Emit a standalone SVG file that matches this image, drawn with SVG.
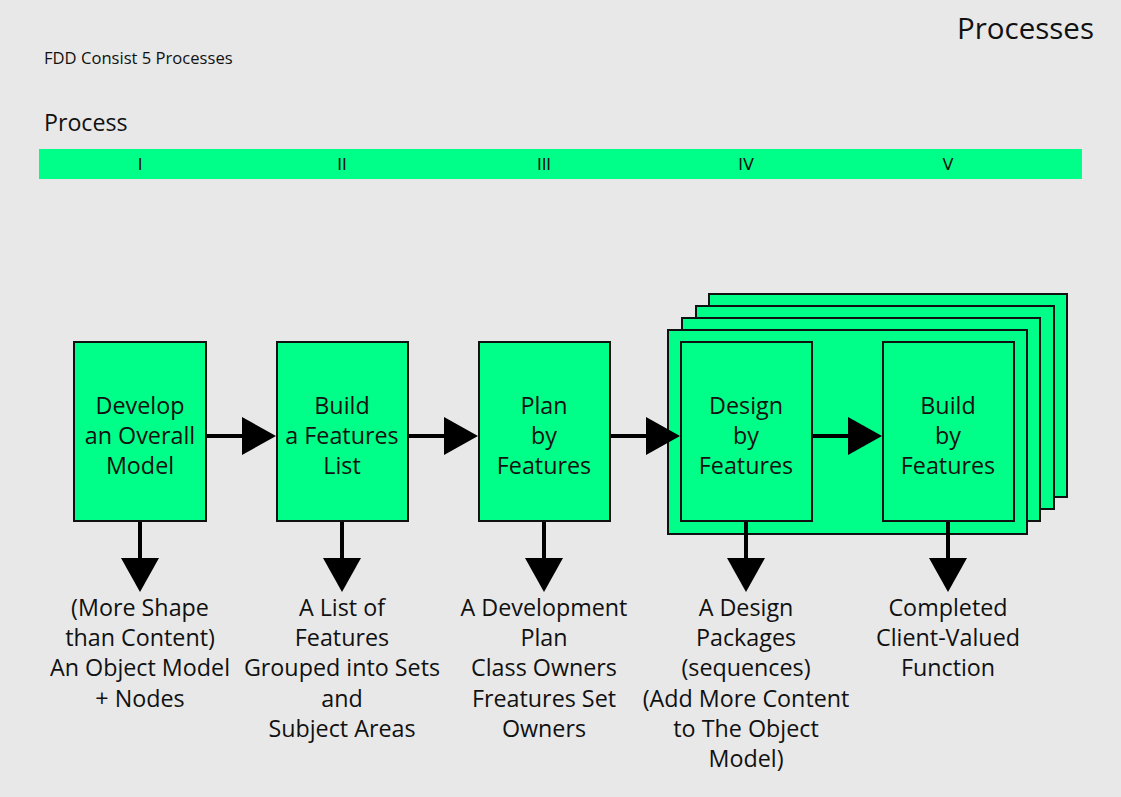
<svg xmlns="http://www.w3.org/2000/svg" width="1121" height="797" viewBox="0 0 1121 797">
  <defs>
    <style>
      text { font-family: "Open Sans", "Noto Sans", sans-serif; fill: #111; }
      .box { fill: #00ff88; stroke: #111; stroke-width: 2; }
      .lbl { font-size: 23.3px; text-anchor: middle; }
      .num { font-family: "DejaVu Sans", sans-serif; font-size: 16px; text-anchor: middle; }
      .wire { stroke: #000; stroke-width: 4; fill: none; }
      .head { fill: #000; }
    </style>
  </defs>
  <rect x="0" y="0" width="1121" height="797" fill="#e8e8e8"/>

  <!-- headings -->
  <text x="1094" y="39" font-size="29.5" text-anchor="end">Processes</text>
  <text x="44" y="64" font-size="16.6">FDD Consist 5 Processes</text>
  <text x="44" y="131" font-size="23.2">Process</text>

  <!-- process number strip -->
  <g id="strip">
    <rect x="39" y="149" width="1043" height="30" fill="#00ff88"/>
    <text class="num" x="140" y="170">I</text>
    <text class="num" x="342" y="170">II</text>
    <text class="num" x="544" y="170">III</text>
    <text class="num" x="746" y="170">IV</text>
    <text class="num" x="948" y="170">V</text>
  </g>

  <!-- stacked iteration frames -->
  <g id="iteration-stack">
    <rect class="box" x="709" y="294" width="358" height="203"/>
    <rect class="box" x="696" y="306" width="358" height="203"/>
    <rect class="box" x="682" y="318" width="358" height="203"/>
    <rect class="box" x="668" y="330" width="359" height="204"/>
  </g>

  <!-- connectors -->
  <g id="connectors">
    <line class="wire" x1="206" y1="436" x2="244" y2="436"/>
    <polygon class="head" points="242,417 276,436 242,455"/>
    <line class="wire" x1="408" y1="436" x2="446" y2="436"/>
    <polygon class="head" points="444,417 478,436 444,455"/>
    <line class="wire" x1="610" y1="436" x2="648" y2="436"/>
    <polygon class="head" points="646,417 680,436 646,455"/>
    <line class="wire" x1="812" y1="436" x2="850" y2="436"/>
    <polygon class="head" points="848,417 882,436 848,455"/>

    <line class="wire" x1="140" y1="521" x2="140" y2="560"/>
    <polygon class="head" points="121,558 159,558 140,592"/>
    <line class="wire" x1="342" y1="521" x2="342" y2="560"/>
    <polygon class="head" points="323,558 361,558 342,592"/>
    <line class="wire" x1="544" y1="521" x2="544" y2="560"/>
    <polygon class="head" points="525,558 563,558 544,592"/>
    <line class="wire" x1="746" y1="521" x2="746" y2="560"/>
    <polygon class="head" points="727,558 765,558 746,592"/>
    <line class="wire" x1="948" y1="521" x2="948" y2="560"/>
    <polygon class="head" points="929,558 967,558 948,592"/>
  </g>

  <!-- process nodes -->
  <g id="develop-model">
    <rect class="box" x="74" y="342" width="132" height="179"/>
    <text class="lbl" x="140" y="414">Develop</text>
    <text class="lbl" x="140" y="444">an Overall</text>
    <text class="lbl" x="140" y="474">Model</text>
  </g>
  <g id="build-features-list">
    <rect class="box" x="277" y="342" width="131" height="179"/>
    <text class="lbl" x="342" y="414">Build</text>
    <text class="lbl" x="342" y="444">a Features</text>
    <text class="lbl" x="342" y="474">List</text>
  </g>
  <g id="plan-by-features">
    <rect class="box" x="479" y="342" width="131" height="179"/>
    <text class="lbl" x="544" y="414">Plan</text>
    <text class="lbl" x="544" y="444">by</text>
    <text class="lbl" x="544" y="474">Features</text>
  </g>
  <g id="design-by-features">
    <rect class="box" x="681" y="342" width="131" height="179"/>
    <text class="lbl" x="746" y="414">Design</text>
    <text class="lbl" x="746" y="444">by</text>
    <text class="lbl" x="746" y="474">Features</text>
  </g>
  <g id="build-by-features">
    <rect class="box" x="883" y="342" width="131" height="179"/>
    <text class="lbl" x="948" y="414">Build</text>
    <text class="lbl" x="948" y="444">by</text>
    <text class="lbl" x="948" y="474">Features</text>
  </g>

  <!-- outputs -->
  <g id="output-1">
    <text class="lbl" x="140" y="616">(More Shape</text>
    <text class="lbl" x="140" y="646">than Content)</text>
    <text class="lbl" x="140" y="676">An Object Model</text>
    <text class="lbl" x="140" y="707">+ Nodes</text>
  </g>
  <g id="output-2">
    <text class="lbl" x="342" y="616">A List of</text>
    <text class="lbl" x="342" y="646">Features</text>
    <text class="lbl" x="342" y="676">Grouped into Sets</text>
    <text class="lbl" x="342" y="707">and</text>
    <text class="lbl" x="342" y="737">Subject Areas</text>
  </g>
  <g id="output-3">
    <text class="lbl" x="544" y="616">A Development</text>
    <text class="lbl" x="544" y="646">Plan</text>
    <text class="lbl" x="544" y="676">Class Owners</text>
    <text class="lbl" x="544" y="707">Freatures Set</text>
    <text class="lbl" x="544" y="737">Owners</text>
  </g>
  <g id="output-4">
    <text class="lbl" x="746" y="616">A Design</text>
    <text class="lbl" x="746" y="646">Packages</text>
    <text class="lbl" x="746" y="676">(sequences)</text>
    <text class="lbl" x="746" y="707">(Add More Content</text>
    <text class="lbl" x="746" y="737">to The Object</text>
    <text class="lbl" x="746" y="767">Model)</text>
  </g>
  <g id="output-5">
    <text class="lbl" x="948" y="616">Completed</text>
    <text class="lbl" x="948" y="646">Client-Valued</text>
    <text class="lbl" x="948" y="676">Function</text>
  </g>
</svg>
